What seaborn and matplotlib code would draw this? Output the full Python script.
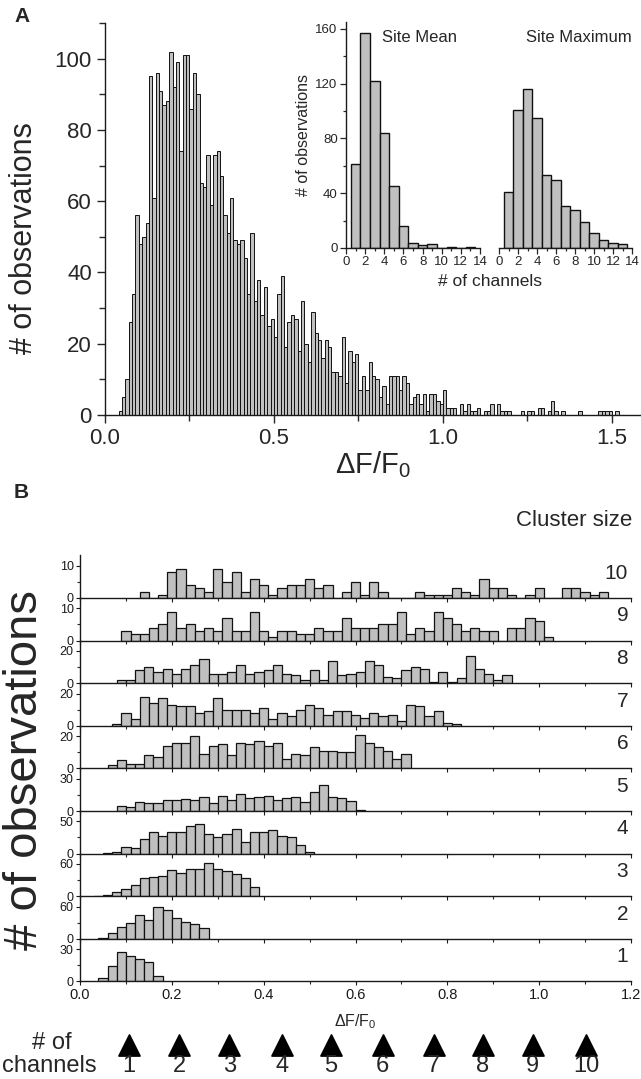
import numpy as np
import pandas as pd
import matplotlib
matplotlib.use("Agg")
import matplotlib.pyplot as plt
import seaborn as sns
from matplotlib.ticker import MultipleLocator, FixedLocator, FormatStrFormatter

sns.set_theme(style="ticks")
plt.rcParams['font.family'] = ['Liberation Sans', 'DejaVu Sans']
plt.rcParams['mathtext.fontset'] = 'custom'
plt.rcParams['mathtext.rm'] = 'Liberation Sans'
plt.rcParams['mathtext.it'] = 'Liberation Sans:italic'
plt.rcParams['axes.edgecolor'] = '#1a1a1a'
plt.rcParams['axes.linewidth'] = 1.0

# ---------------- Panel A: event amplitudes (bins of 0.01 from 0.04) ----------------
amp_start = 0.04
amp_width = 0.01
amp_counts = [
    1, 5, 10, 26, 34, 56, 48, 50, 54, 95,          # 0.04 - 0.13
    61, 96, 91, 87, 88, 102, 92, 99, 74, 101,      # 0.14 - 0.23
    101, 86, 96, 90, 65, 64, 73, 59, 73, 74,       # 0.24 - 0.33
    67, 56, 51, 61, 49, 48, 49, 44, 34, 51,        # 0.34 - 0.43
    32, 38, 28, 36, 25, 27, 22, 34, 39, 19,        # 0.44 - 0.53
    26, 28, 27, 18, 32, 20, 15, 29, 23, 21,        # 0.54 - 0.63
    16, 21, 19, 12, 12, 11, 22, 9, 18, 15,         # 0.64 - 0.73
    17, 7, 11, 7, 15, 11, 10, 5, 8, 3,             # 0.74 - 0.83
    11, 11, 11, 7, 11, 9, 3, 5, 6, 3,              # 0.84 - 0.93
    6, 1, 6, 6, 4, 3, 7, 2, 2, 2,                  # 0.94 - 1.03
    0, 3, 1, 3, 1, 1, 2, 0, 1, 1,                  # 1.04 - 1.13
    3, 0, 3, 1, 1, 1, 0, 0, 0, 1,                  # 1.14 - 1.23
    0, 1, 1, 0, 2, 2, 0, 1, 4, 1,                  # 1.24 - 1.33
    0, 1, 0, 0, 0, 0, 1, 0, 0, 0,                  # 1.34 - 1.43
    0, 0, 1, 1, 1, 1, 0, 1,                        # 1.44 - 1.51
]

# Inset: number of channels per site
site_mean = [61, 157, 122, 84, 45, 16, 4, 2, 3, 0, 1, 0, 1]
site_max = [41, 101, 116, 95, 53, 50, 31, 28, 19, 11, 6, 4, 3]

# ---------------- Panel B: amplitudes by cluster size (bins of 0.02) ----------------
cluster_sizes = [10, 9, 8, 7, 6, 5, 4, 3, 2, 1]
cluster_starts = [0.13, 0.09, 0.08, 0.07, 0.06, 0.08, 0.05, 0.03, 0.04, 0.04]
cluster_yticks = [10, 10, 20, 20, 20, 30, 50, 60, 60, 30]
c10 = [2, 0, 1, 8, 9, 4, 3, 2, 9, 5, 8, 2, 6, 4, 1, 3, 4, 4, 6, 3, 4, 0, 2, 5, 1,
       5, 2, 0, 0, 0, 2, 1, 1, 1, 3, 2, 1, 6, 3, 3, 1, 0, 1, 3, 0, 0, 3, 3, 2, 1, 2]
c9 = [3, 2, 2, 4, 5, 9, 4, 5, 3, 4, 3, 7, 3, 3, 9, 3, 1, 3, 3, 2, 2, 4, 3, 3, 7,
      4, 4, 4, 5, 5, 9, 2, 4, 3, 9, 7, 5, 3, 4, 3, 3, 0, 4, 4, 7, 6, 1]
c8 = [2, 2, 8, 10, 7, 9, 6, 9, 11, 15, 6, 6, 7, 11, 6, 7, 8, 11, 6, 5, 2, 8,
      2, 14, 5, 6, 7, 14, 11, 4, 3, 8, 10, 9, 1, 7, 1, 3, 17, 9, 6, 2, 5]
c7 = [1, 8, 4, 18, 14, 17, 13, 12, 12, 8, 9, 17, 10, 10, 10, 8, 11, 4, 8, 6,
      10, 13, 11, 7, 9, 9, 7, 5, 8, 6, 7, 3, 13, 12, 6, 9, 2, 1]
c6 = [2, 5, 3, 3, 8, 7, 14, 16, 16, 20, 9, 14, 15, 8, 16, 15, 17, 14, 16, 6,
      9, 8, 13, 11, 11, 10, 10, 21, 16, 13, 11, 6, 9]
c5 = [5, 4, 8, 7, 7, 10, 10, 11, 10, 13, 7, 14, 10, 16, 12, 13, 14, 10, 12, 13,
      8, 18, 24, 13, 12, 9, 1]
c4 = [1, 3, 10, 8, 22, 34, 28, 33, 34, 43, 46, 30, 26, 30, 38, 18, 33, 33, 37,
      27, 26, 14, 2]
c3 = [1, 3, 7, 14, 20, 33, 35, 38, 48, 43, 51, 50, 61, 50, 47, 42, 33, 17]
c2 = [1, 11, 22, 29, 44, 35, 60, 54, 39, 31, 27, 20]
c1 = [3, 14, 27, 24, 21, 18, 5]
cluster_counts = [c10, c9, c8, c7, c6, c5, c4, c3, c2, c1]
cluster_width = 0.02

# Unitary channel amplitude levels marked beneath panel B
channel_levels = [0.106, 0.216, 0.325, 0.44, 0.547, 0.659, 0.77, 0.877, 0.986, 1.102]
channel_numbers = ['1', '2', '3', '4', '5', '6', '7', '8', '9', '10']

BAR = '#c0c0c0'
EDGE = '#111111'
W, H = 641, 1079
fig = plt.figure(figsize=(W / 100, H / 100), dpi=100)


def px_axes(x0, y0, x1, y1):
    """Axes from a pixel box given as (left, top, right, bottom)."""
    return fig.add_axes([x0 / W, 1 - y1 / H, (x1 - x0) / W, (y1 - y0) / H])


def hist_counts(ax, start, width, counts, lw):
    n = len(counts)
    centers = start + width * (np.arange(n) + 0.5)
    df = pd.DataFrame({'value': centers, 'count': counts})
    sns.histplot(data=df, x='value', weights='count', bins=n,
                 binrange=(start, start + n * width), ax=ax, color=BAR,
                 edgecolor=EDGE, linewidth=lw, alpha=1.0)
    ax.set_xlabel('')
    ax.set_ylabel('')


# ---------------- Panel A ----------------
axA = px_axes(105, 23, 641, 415)
hist_counts(axA, amp_start, amp_width, amp_counts, 0.7)
axA.set_xlim(0, 1.586)
axA.set_ylim(0, 110)
axA.xaxis.set_major_locator(MultipleLocator(0.5))
axA.xaxis.set_minor_locator(MultipleLocator(0.25))
axA.yaxis.set_major_locator(MultipleLocator(20))
axA.yaxis.set_minor_locator(MultipleLocator(10))
axA.xaxis.set_major_formatter(FormatStrFormatter('%.1f'))
axA.tick_params(which='major', length=6, width=1, labelsize=16, direction='out')
axA.tick_params(which='minor', length=4, width=1, direction='out')
sns.despine(ax=axA)
axA.set_xlabel(r'ΔF/F$_0$', fontsize=21, labelpad=0)
fig.text(24 / W, 1 - 238 / H, '# of observations', fontsize=22, rotation=90,
         ha='center', va='center')
fig.text(14 / W, 1 - 16 / H, 'A', fontsize=15, fontweight='bold', va='center')

# Inset: site mean / site maximum
axM = px_axes(346, 22, 480, 248)
axX = px_axes(499, 22, 632, 248)
for ax, counts in ((axM, site_mean), (axX, site_max)):
    ax.patch.set_alpha(0)
    hist_counts(ax, 0.5, 1.0, counts, 1.0)
    ax.set_xlim(0, 14)
    ax.set_ylim(0, 165)
    ax.xaxis.set_major_locator(MultipleLocator(2))
    ax.xaxis.set_minor_locator(MultipleLocator(1))
    ax.yaxis.set_major_locator(FixedLocator([0, 40, 80, 120, 160]))
    ax.yaxis.set_minor_locator(FixedLocator([20, 60, 100, 140]))
    ax.tick_params(which='major', length=4, width=0.9, labelsize=9.5, pad=2)
    ax.tick_params(which='minor', length=2.5, width=0.9)
sns.despine(ax=axM)
sns.despine(ax=axX, left=True)
axX.tick_params(axis='y', which='both', left=False, labelleft=False)
axM.set_ylabel('# of observations', fontsize=11.5, labelpad=3)
axM.text(0.27, 0.93, 'Site Mean', transform=axM.transAxes, fontsize=12, va='center')
axX.text(1.0, 0.93, 'Site Maximum', transform=axX.transAxes, fontsize=12,
         va='center', ha='right')
fig.text(490 / W, 1 - 282 / H, '# of channels', fontsize=12.5, ha='center', va='center')

# ---------------- Panel B ----------------
fig.text(14 / W, 1 - 492 / H, 'B', fontsize=15, fontweight='bold', va='center')
fig.text(632 / W, 1 - 521 / H, 'Cluster size', fontsize=16, ha='right', va='center')

row_h = 42.6
row_axes = []
for i, (size, start, ytop, counts) in enumerate(
        zip(cluster_sizes, cluster_starts, cluster_yticks, cluster_counts)):
    base = 598 + i * row_h
    ax = px_axes(80, base - row_h, 631, base)
    ax.patch.set_alpha(0)
    hist_counts(ax, start, cluster_width, counts, 0.9)
    ax.set_xlim(0, 1.2)
    ax.set_ylim(0, ytop * 1.32)
    ax.xaxis.set_major_locator(MultipleLocator(0.2))
    ax.xaxis.set_minor_locator(MultipleLocator(0.1))
    ax.yaxis.set_major_locator(FixedLocator([0, ytop]))
    ax.yaxis.set_minor_locator(FixedLocator([ytop / 2]))
    ax.tick_params(which='major', length=3, width=0.8, labelsize=9, pad=1.5,
                   colors='#1a1a1a')
    ax.tick_params(which='minor', length=2, width=0.8)
    ax.tick_params(axis='x', labelbottom=(size == 1), labelsize=10.5, pad=2)
    sns.despine(ax=ax)
    ax.text(0.995, 0.58, str(size), transform=ax.transAxes, fontsize=15,
            ha='right', va='center')
    row_axes.append(ax)

row_axes[-1].xaxis.set_major_formatter(FormatStrFormatter('%.1f'))
row_axes[-1].set_xlabel(r'ΔF/F$_0$', fontsize=11.5, labelpad=7)
fig.text(25 / W, 1 - 770 / H, '# of observations', fontsize=34, rotation=90,
         ha='center', va='center')

# Channel amplitude markers
axT = px_axes(80, 1029, 631, 1079)
axT.set_xlim(0, 1.2)
axT.set_ylim(0, 1)
sns.scatterplot(x=channel_levels, y=[0.68] * len(channel_levels), marker='^',
                s=230, color='black', edgecolor='black', ax=axT, legend=False)
for xv, lab in zip(channel_levels, channel_numbers):
    axT.text(xv, 0.26, lab, fontsize=17, ha='center', va='center')
axT.axis('off')
fig.text(52 / W, 1 - 1043 / H, '# of', fontsize=17, ha='center', va='center')
fig.text(2 / W, 1 - 1066 / H, 'channels', fontsize=17, ha='left', va='center')

fig.savefig('out.png', dpi=100)
